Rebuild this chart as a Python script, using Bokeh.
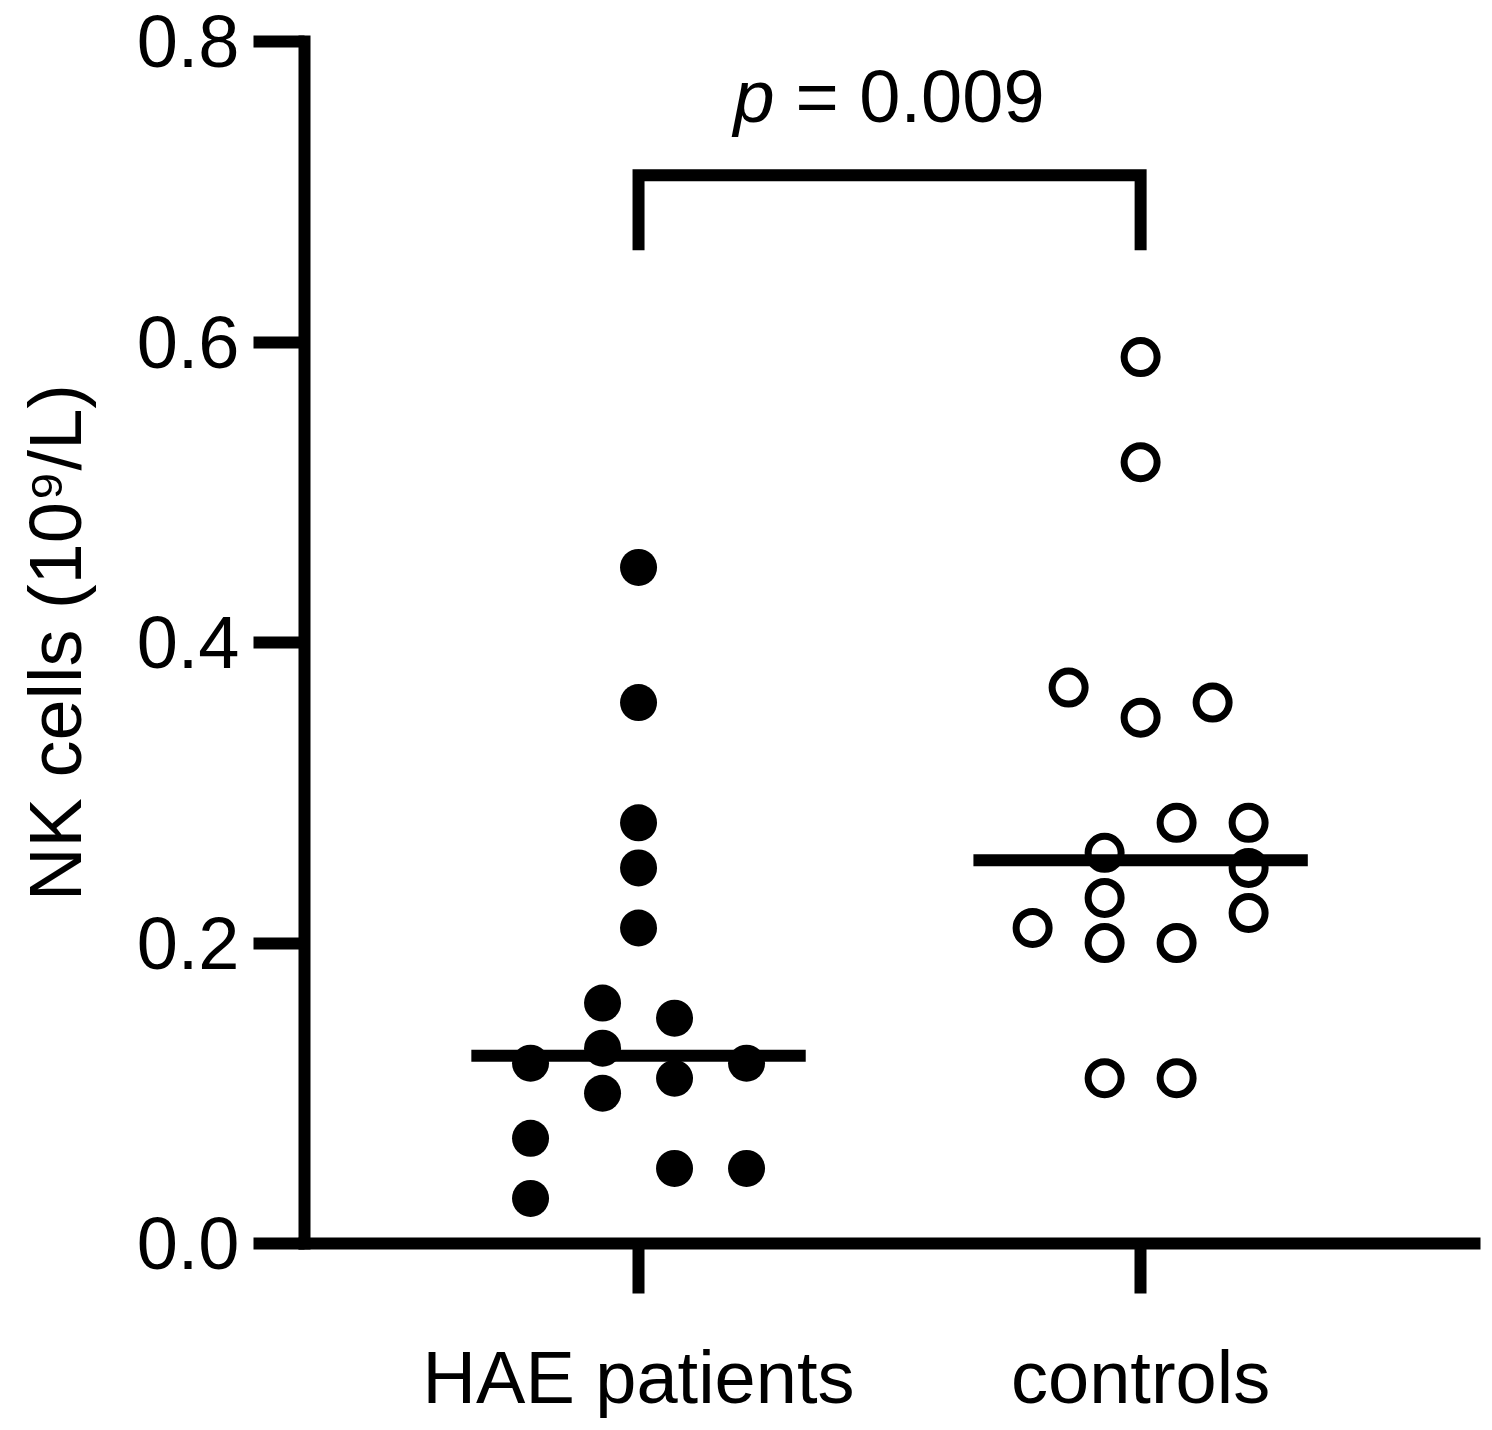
import numpy as np
from bokeh.plotting import figure
from bokeh.models import Range1d, FixedTicker, NumeralTickFormatter, ColumnDataSource
from bokeh.core.properties import value
from bokeh.embed import file_html
from bokeh.resources import INLINE

# ---------------- data ----------------
groups = ["HAE patients", "controls"]
hae_values = [0.45, 0.36, 0.28, 0.25, 0.21, 0.16, 0.15, 0.13, 0.12, 0.12,
              0.11, 0.10, 0.07, 0.05, 0.05, 0.03]
hae_slots = [0, 0, 0, 0, 0, -1, 1, -1, -3, 3, 1, -1, -3, 1, 3, -3]
ctrl_values = [0.59, 0.52, 0.37, 0.36, 0.35, 0.28, 0.28, 0.26, 0.25, 0.23,
               0.22, 0.21, 0.20, 0.20, 0.11, 0.11]
ctrl_slots = [0, 0, -2, 2, 0, 1, 3, -1, 3, -1, 3, -3, -1, 1, -1, 1]
y_ticks = [0.0, 0.2, 0.4, 0.6, 0.8]
y_label = "NK cells (10\u2079/L)"
p_label = "p"
p_value = "= 0.009"

# ---------------- style constants ----------------
FONT = "Liberation Sans"
FS = "74px"
SLOT = 0.0717          # horizontal step of the scatter columns (category units)
HALF = 0.333           # half-width of median bars
BR_LOW, BR_TOP = 0.661, 0.711
TXT_Y = 0.7635

group_pos = [1, 2]

p = figure(width=1484, height=1422, output_backend="svg", toolbar_location=None,
           x_range=Range1d(0.3347, 2.665), y_range=Range1d(0, 0.8),
           min_border_left=304, min_border_right=10,
           min_border_top=41, min_border_bottom=179)
p.xgrid.visible = False
p.ygrid.visible = False
p.outline_line_color = None
p.background_fill_color = "white"
p.border_fill_color = "white"

for ax in (p.xaxis[0], p.yaxis[0]):
    ax.axis_line_width = 12
    ax.axis_line_color = "black"
    ax.axis_line_cap = "square"
    ax.major_tick_line_width = 12
    ax.major_tick_line_color = "black"
    ax.major_tick_in = 0
    ax.minor_tick_in = 0
    ax.minor_tick_out = 0
    ax.major_label_text_font = FONT
    ax.major_label_text_font_size = FS
    ax.major_label_text_color = "black"

p.yaxis.ticker = FixedTicker(ticks=y_ticks)
p.yaxis.formatter = NumeralTickFormatter(format="0.0")
p.yaxis.major_tick_out = 51
p.yaxis.major_label_standoff = 14
p.yaxis.axis_label = y_label
p.yaxis.axis_label_text_font = FONT
p.yaxis.axis_label_text_font_size = FS
p.yaxis.axis_label_text_font_style = "normal"
p.yaxis.axis_label_text_color = "black"
p.yaxis.axis_label_standoff = 37

p.xaxis.ticker = FixedTicker(ticks=group_pos)
p.xaxis.major_label_overrides = {g: name for g, name in zip(group_pos, groups)}
p.xaxis.major_tick_out = 50
p.xaxis.major_label_standoff = 42

# points
hae_src = ColumnDataSource(dict(
    x=[group_pos[0] + s * SLOT for s in hae_slots], y=hae_values))
ctrl_src = ColumnDataSource(dict(
    x=[group_pos[1] + s * SLOT for s in ctrl_slots], y=ctrl_values))

p.scatter("x", "y", source=hae_src, size=37, marker="circle",
          fill_color="black", line_color=None)
p.scatter("x", "y", source=ctrl_src, size=33, marker="circle",
          fill_color="white", line_color="black", line_width=7)

# medians
meds = [float(np.median(hae_values)), float(np.median(ctrl_values))]
p.segment(x0=[g - HALF for g in group_pos], x1=[g + HALF for g in group_pos],
          y0=meds, y1=meds, line_width=12, line_color="black", line_cap="butt")

# significance bracket
p.line(x=[group_pos[0], group_pos[0], group_pos[1], group_pos[1]],
       y=[BR_LOW, BR_TOP, BR_TOP, BR_LOW], line_width=12, line_color="black",
       line_join="miter", line_cap="butt")

mid = (group_pos[0] + group_pos[1]) / 2
p.text(x=[mid], y=[TXT_Y], text=[p_label], x_offset=-115,
       text_align="right", text_baseline="alphabetic",
       text_font=value(FONT), text_font_size=FS,
       text_font_style="italic", text_color="black")
p.text(x=[mid], y=[TXT_Y], text=[p_value], x_offset=-94,
       text_align="left", text_baseline="alphabetic",
       text_font=value(FONT), text_font_size=FS, text_color="black")

open("out.html", "w").write(file_html(p, INLINE))
